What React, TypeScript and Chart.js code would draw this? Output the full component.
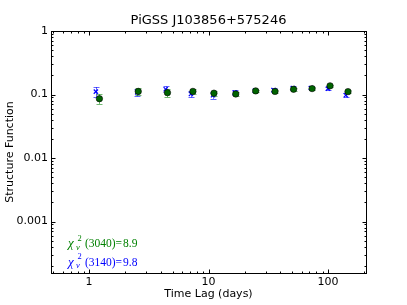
import React, { useEffect, useRef } from "react";
import { Chart, registerables } from "chart.js";

Chart.register(...registerables);

const TITLE = "PiGSS J103856+575246";
const X_LABEL = "Time Lag (days)";
const Y_LABEL = "Structure Function";
const X_TICKS = [1, 10, 100];
const Y_TICKS = [0.001, 0.01, 0.1, 1];
const X_MIN = 0.48;
const X_MAX = 208;
const Y_MIN = 0.000155;
const Y_MAX = 1;

// 3040 series (green circles)
const lag3040 = [1.22, 2.58, 4.53, 7.4, 11.1, 16.9, 24.8, 36, 51.5, 73.6, 104, 147];
const sf3040 = [0.086, 0.112, 0.107, 0.112, 0.105, 0.102, 0.114, 0.112, 0.121, 0.124, 0.137, 0.111];
const err3040 = [0.015, 0.014, 0.016, 0.01, 0.01, 0.008, 0.005, 0.005, 0.006, 0.005, 0.006, 0.007];

// 3140 series (blue crosses)
const lag3140 = [1.14, 2.53, 4.38, 7.12, 10.9, 16.6, 24.5, 35, 50.8, 72, 100, 141];
const sf3140 = [0.111, 0.108, 0.121, 0.102, 0.0975, 0.107, 0.115, 0.118, 0.127, 0.127, 0.124, 0.0975];
const err3140 = [0.02, 0.014, 0.013, 0.012, 0.012, 0.01, 0.006, 0.007, 0.008, 0.007, 0.008, 0.007];

const CHI_LABELS = ["(3040)", "(3140)"];
const CHI_VALUES = ["8.9", "9.8"];

const GREEN = "rgb(0,128,0)";
const BLUE = "rgb(0,0,255)";

const errorBarPlugin = {
  id: "errorBars",
  beforeDatasetsDraw(chart: any) {
    const ctx = chart.ctx;
    const xs = chart.scales.x;
    const ys = chart.scales.y;
    const sets = [
      { lag: lag3140, sf: sf3140, err: err3140, color: "rgba(0,0,255,0.6)" },
      { lag: lag3040, sf: sf3040, err: err3040, color: "rgba(0,128,0,0.55)" },
    ];
    ctx.save();
    ctx.lineWidth = 1;
    for (const s of sets) {
      ctx.strokeStyle = s.color;
      for (let i = 0; i < s.lag.length; i++) {
        const x = Math.round(xs.getPixelForValue(s.lag[i])) + 0.5;
        const y1 = ys.getPixelForValue(s.sf[i] + s.err[i]);
        const y2 = ys.getPixelForValue(s.sf[i] - s.err[i]);
        ctx.beginPath();
        ctx.moveTo(x, y1);
        ctx.lineTo(x, y2);
        ctx.moveTo(x - 3, Math.round(y1) + 0.5);
        ctx.lineTo(x + 3, Math.round(y1) + 0.5);
        ctx.moveTo(x - 3, Math.round(y2) + 0.5);
        ctx.lineTo(x + 3, Math.round(y2) + 0.5);
        ctx.stroke();
      }
    }
    ctx.restore();
  },
};

function minorValues(min: number, max: number) {
  const out: { v: number; major: boolean }[] = [];
  for (let e = Math.floor(Math.log10(min)); e <= Math.ceil(Math.log10(max)); e++) {
    for (let k = 1; k <= 9; k++) {
      const v = k * Math.pow(10, e);
      if (v >= min * 0.9999 && v <= max * 1.0001) out.push({ v, major: k === 1 });
    }
  }
  return out;
}

const framePlugin = {
  id: "frame",
  afterDraw(chart: any) {
    const ctx = chart.ctx;
    const { left, right, top, bottom } = chart.chartArea;
    const xs = chart.scales.x;
    const ys = chart.scales.y;
    const L = Math.round(left) + 0.5;
    const R = Math.round(right) + 0.5;
    const T = Math.round(top) + 0.5;
    const B = Math.round(bottom) + 0.5;
    ctx.save();
    ctx.strokeStyle = "#000";
    ctx.lineWidth = 1;
    ctx.beginPath();
    for (const t of minorValues(X_MIN, X_MAX)) {
      const x = Math.round(xs.getPixelForValue(t.v)) + 0.5;
      const len = t.major ? 4 : 2;
      ctx.moveTo(x, B);
      ctx.lineTo(x, B - len);
      ctx.moveTo(x, T);
      ctx.lineTo(x, T + len);
    }
    for (const t of minorValues(Y_MIN, Y_MAX)) {
      const y = Math.round(ys.getPixelForValue(t.v)) + 0.5;
      const len = t.major ? 4 : 2;
      ctx.moveTo(L, y);
      ctx.lineTo(L + len, y);
      ctx.moveTo(R, y);
      ctx.lineTo(R - len, y);
    }
    ctx.stroke();
    ctx.strokeRect(L, T, R - L, B - T);

    // chi-squared annotations
    const colors = [GREEN, BLUE];
    const baselines = [bottom - 26, bottom - 7.5];
    for (let i = 0; i < 2; i++) {
      const x0 = left + 17;
      const yb = baselines[i];
      ctx.fillStyle = colors[i];
      ctx.textBaseline = "alphabetic";
      ctx.textAlign = "left";
      ctx.font = "italic 13px 'Liberation Serif'";
      ctx.fillText("\u03c7", x0, yb);
      ctx.font = "8.5px 'Liberation Serif'";
      ctx.fillText("2", x0 + 9.5, yb - 6.5);
      ctx.font = "italic 8.5px 'Liberation Serif'";
      ctx.fillText("\u03bd", x0 + 8, yb + 2.5);
      ctx.font = "11.5px 'Liberation Serif'";
      ctx.fillText(CHI_LABELS[i], x0 + 17, yb);
      ctx.fillText("=", x0 + 47.5, yb);
      ctx.fillText(CHI_VALUES[i], x0 + 55, yb);
    }
    ctx.restore();
  },
};

export default function App() {
  const ref = useRef<HTMLCanvasElement>(null);
  useEffect(() => {
    document.body.style.margin = "0";
    const canvas = ref.current!;
    const chart = new Chart(canvas, {
      type: "scatter",
      data: {
        datasets: [
          {
            label: "3040",
            data: lag3040.map((x, i) => ({ x, y: sf3040[i] })),
            pointStyle: "circle",
            pointRadius: 3.2,
            backgroundColor: "rgb(0,100,0)",
            borderColor: "#000",
            borderWidth: 0.6,
          },
          {
            label: "3140",
            data: lag3140.map((x, i) => ({ x, y: sf3140[i] })),
            pointStyle: "crossRot",
            pointRadius: 3,
            backgroundColor: BLUE,
            borderColor: BLUE,
            borderWidth: 1.2,
          },
        ],
      },
      options: {
        responsive: false,
        animation: false,
        layout: { padding: { left: 0, right: 41, top: 0, bottom: 0 } },
        plugins: {
          legend: { display: false },
          tooltip: { enabled: false },
          title: {
            display: true,
            text: TITLE,
            fullSize: false,
            color: "#000",
            font: { family: "'DejaVu Sans'", size: 13, weight: "normal" },
            padding: { top: 12.5, bottom: 2.9 },
          },
        },
        scales: {
          x: {
            type: "logarithmic",
            min: X_MIN,
            max: X_MAX,
            grid: { display: false, drawTicks: false },
            border: { display: false },
            afterBuildTicks: (s: any) => {
              s.ticks = X_TICKS.map((value) => ({ value }));
            },
            afterFit: (s: any) => {
              s.height = 32;
            },
            ticks: {
              color: "#000",
              padding: 3,
              maxRotation: 0,
              autoSkip: false,
              font: { family: "'DejaVu Sans'", size: 11 },
              callback: (v: any) => String(v),
            },
            title: {
              display: true,
              text: X_LABEL,
              color: "#000",
              font: { family: "'DejaVu Sans'", size: 11 },
              padding: { top: 0, bottom: 4 },
            },
          },
          y: {
            type: "logarithmic",
            min: Y_MIN,
            max: Y_MAX,
            grid: { display: false, drawTicks: false },
            border: { display: false },
            afterBuildTicks: (s: any) => {
              s.ticks = Y_TICKS.map((value) => ({ value }));
            },
            afterFit: (s: any) => {
              s.width = 51;
            },
            ticks: {
              color: "#000",
              padding: 3,
              autoSkip: false,
              font: { family: "'DejaVu Sans'", size: 11 },
              callback: (v: any) => String(v),
            },
            title: {
              display: true,
              text: Y_LABEL,
              color: "#000",
              font: { family: "'DejaVu Sans'", size: 11 },
              padding: { top: 3.5, bottom: 0 },
            },
          },
        },
      },
      plugins: [errorBarPlugin, framePlugin],
    } as any);
    return () => chart.destroy();
  }, []);
  return (
    <div style={{ width: 407, height: 305 }}>
      <canvas ref={ref} width={407} height={305} />
    </div>
  );
}
